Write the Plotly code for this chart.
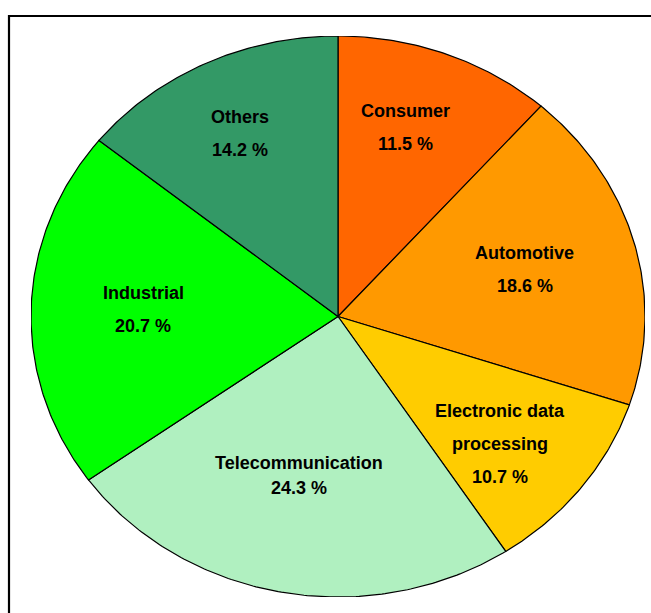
import numpy as np
import plotly.graph_objects as go

# ---- data ----
categories = ["Consumer", "Automotive", "Electronic data<br>processing",
              "Telecommunication", "Industrial", "Others"]
shares = [11.5, 18.6, 10.7, 24.3, 20.7, 14.2]
colors = ["#FF6600", "#FF9900", "#FFCC00", "#B0F0C0", "#00FF00", "#339966"]

# ---- label style (radial fractions in x / y, line spacing in px) ----
label_frac = {
    "Consumer": (0.62, 0.72),
    "Automotive": (0.63, 0.64),
    "Electronic data<br>processing": (0.667, 0.746),
    "Telecommunication": (0.69, 0.575),
    "Industrial": (0.635, 0.83),
    "Others": (0.74, 0.725),
}
line_gap = {"Telecommunication": 25}
default_gap = 33

W, H = 651, 613
L, R, T, B = 31, 6, 36, 16
pw, ph = W - L - R, H - T - B

fig = go.Figure()
total = sum(shares)
start = 0.0
annotations = []
for name, val, col in zip(categories, shares, colors):
    a0 = start / total * 2 * np.pi
    a1 = (start + val) / total * 2 * np.pi
    th = np.linspace(a0, a1, max(int(val * 6), 10))
    xs = np.concatenate([[0], np.sin(th), [0]])
    ys = np.concatenate([[0], np.cos(th), [0]])
    fig.add_trace(go.Scatter(
        x=xs, y=ys, mode="lines", fill="toself", fillcolor=col,
        line=dict(color="black", width=1.2), name=name.replace("<br>", " "),
        hoverinfo="name", showlegend=False))
    mid = (a0 + a1) / 2
    fx, fy = label_frac[name]
    cx, cy = fx * np.sin(mid), fy * np.cos(mid)
    lines = name.split("<br>") + [f"{val:.1f} %"]
    gap = line_gap.get(name, default_gap)
    n = len(lines)
    for i, ln in enumerate(lines):
        annotations.append(dict(
            x=cx, y=cy, xref="x", yref="y", text=ln, showarrow=False,
            xanchor="center", yanchor="middle",
            yshift=((n - 1) / 2 - i) * gap,
            font=dict(family="Liberation Sans, Arial, sans-serif", size=18,
                      color="black", weight="bold")))
    start += val

# frame rectangle (partially outside the page on right/bottom)
frame = dict(type="rect", xref="paper", yref="paper",
             x0=(9 - L) / pw, x1=1.2, y0=-0.2, y1=(H - B - 16) / ph,
             line=dict(color="black", width=2.2), fillcolor="rgba(0,0,0,0)",
             layer="below")

fig.update_layout(
    width=W, height=H,
    margin=dict(l=L, r=R, t=T, b=B),
    paper_bgcolor="white", plot_bgcolor="white",
    xaxis=dict(range=[-1, 1], visible=False, fixedrange=True),
    yaxis=dict(range=[-1, 1], visible=False, fixedrange=True),
    annotations=annotations,
    shapes=[frame],
    showlegend=False,
)
fig.write_html(
    "out.html",
    config={"displayModeBar": False},
    post_script="document.body.style.margin='0';document.body.style.overflow='hidden';",
)
